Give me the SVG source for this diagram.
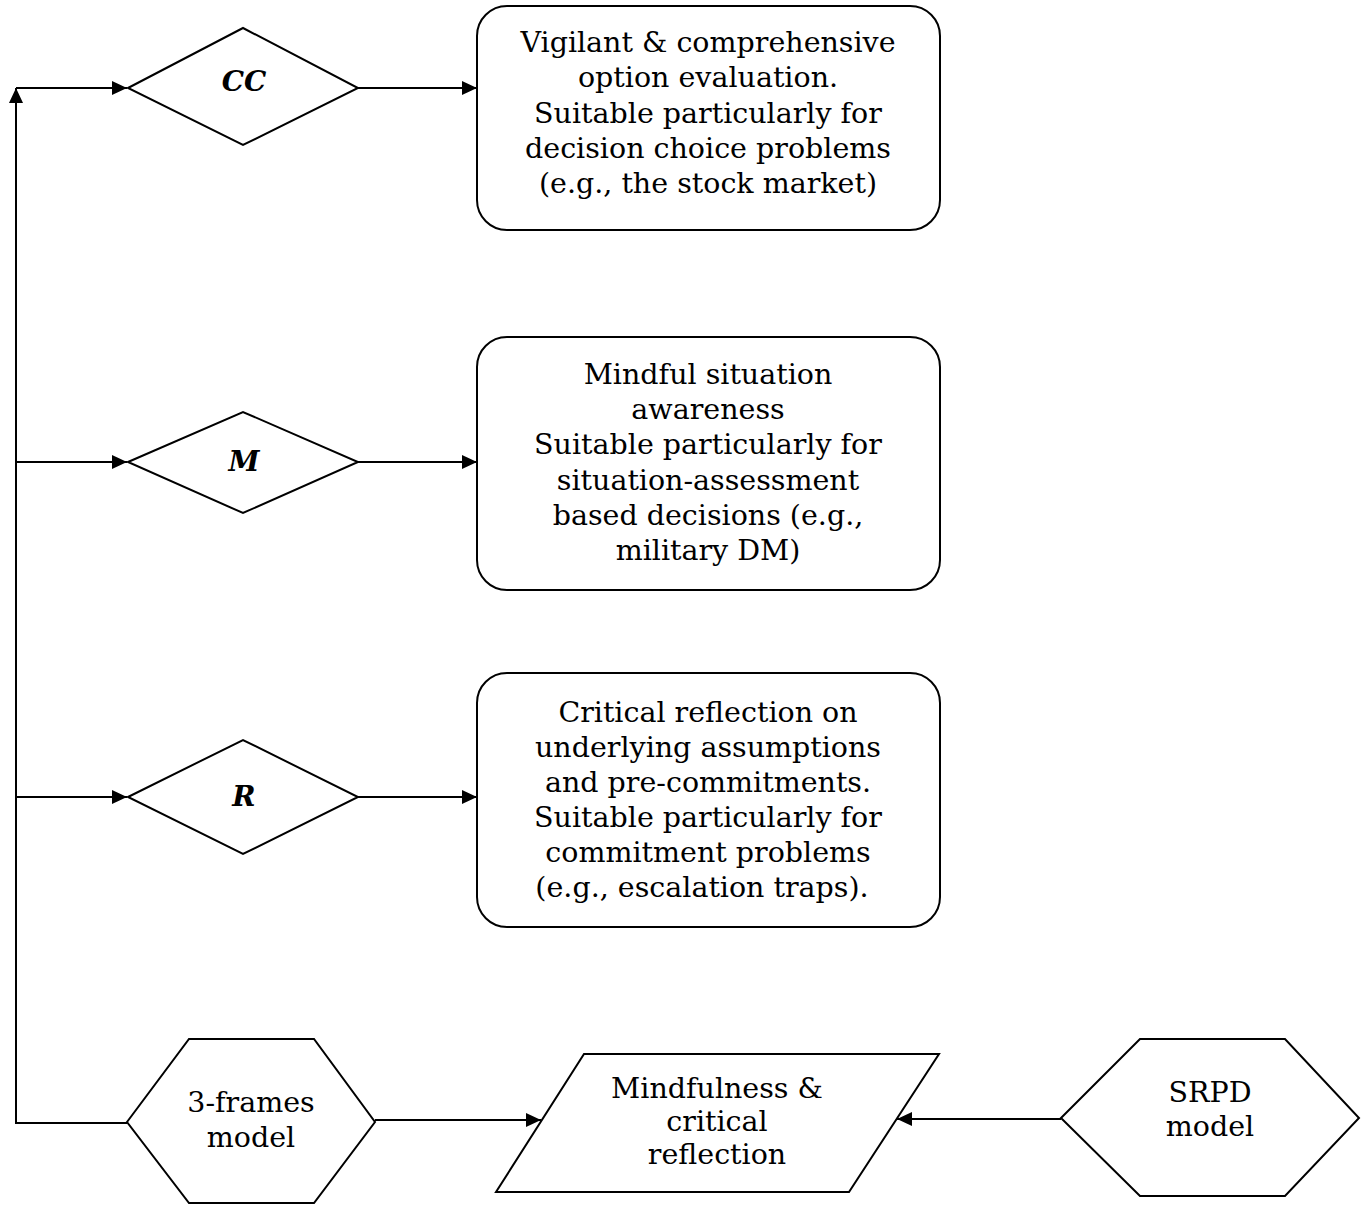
<svg xmlns="http://www.w3.org/2000/svg" width="1364" height="1205" viewBox="0 0 1364 1205">
<defs>
<marker id="arr" markerUnits="userSpaceOnUse" markerWidth="16" markerHeight="14" refX="15" refY="7" orient="auto">
<path d="M0,0 L15,7 L0,14 z" fill="#000"/>
</marker>
<style>
.sh{fill:#fff;stroke:#000;stroke-width:2}
.ln{fill:none;stroke:#000;stroke-width:2}
.t{font-family:"DejaVu Serif","Liberation Serif",serif;font-size:28.5px;fill:#000;text-anchor:middle}
.b{font-family:"DejaVu Serif","Liberation Serif",serif;font-size:28px;font-weight:bold;font-style:italic;fill:#000;text-anchor:middle}
</style>
</defs>
<rect width="1364" height="1205" fill="#fff"/>
<g id="connectors">
<path class="ln" d="M127,1123 L16,1123 L16,88" marker-end="url(#arr)"/>
<path class="ln" d="M16,88 L127,88" marker-end="url(#arr)"/>
<path class="ln" d="M16,462 L127,462" marker-end="url(#arr)"/>
<path class="ln" d="M16,797 L127,797" marker-end="url(#arr)"/>
<path class="ln" d="M358,88 L477,88" marker-end="url(#arr)"/>
<path class="ln" d="M358,462 L477,462" marker-end="url(#arr)"/>
<path class="ln" d="M358,797 L477,797" marker-end="url(#arr)"/>
<path class="ln" d="M375,1120 L541,1120" marker-end="url(#arr)"/>
<path class="ln" d="M1061,1119 L897,1119" marker-end="url(#arr)"/>
</g>
<g id="cc">
<polygon class="sh" points="128,88 243,28 358,88 243,145"/>
<text class="b" x="244" y="91">CC</text>
</g>
<g id="m">
<polygon class="sh" points="128,462 243,412 358,462 243,513"/>
<text class="b" x="244" y="471">M</text>
</g>
<g id="r">
<polygon class="sh" points="128,797 243,740 358,797 243,854"/>
<text class="b" x="244" y="806">R</text>
</g>
<g id="box1">
<rect class="sh" x="477" y="6" width="463" height="224" rx="30"/>
<text class="t" x="708" y="52">Vigilant &amp; comprehensive</text>
<text class="t" x="708" y="87">option evaluation.</text>
<text class="t" x="708" y="123">Suitable particularly for</text>
<text class="t" x="708" y="158">decision choice problems</text>
<text class="t" x="708" y="193">(e.g., the stock market)</text>
</g>
<g id="box2">
<rect class="sh" x="477" y="337" width="463" height="253" rx="30"/>
<text class="t" x="708" y="384">Mindful situation</text>
<text class="t" x="708" y="419">awareness</text>
<text class="t" x="708" y="454">Suitable particularly for</text>
<text class="t" x="708" y="490">situation-assessment</text>
<text class="t" x="708" y="525">based decisions (e.g.,</text>
<text class="t" x="708" y="560">military DM)</text>
</g>
<g id="box3">
<rect class="sh" x="477" y="673" width="463" height="254" rx="30"/>
<text class="t" x="708" y="722">Critical reflection on</text>
<text class="t" x="708" y="757">underlying assumptions</text>
<text class="t" x="708" y="792">and pre-commitments.</text>
<text class="t" x="708" y="827">Suitable particularly for</text>
<text class="t" x="708" y="862">commitment problems</text>
<text class="t" x="702" y="897">(e.g., escalation traps).</text>
</g>
<g id="three-frames">
<polygon class="sh" points="127,1122 189,1039 314,1039 375,1122 314,1203 189,1203"/>
<text class="t" x="251" y="1112">3-frames</text>
<text class="t" x="251" y="1147">model</text>
</g>
<g id="mindfulness">
<polygon class="sh" points="584,1054 939,1054 849,1192 496,1192"/>
<text class="t" x="717" y="1098">Mindfulness &amp;</text>
<text class="t" x="717" y="1131">critical</text>
<text class="t" x="717" y="1164">reflection</text>
</g>
<g id="srpd">
<polygon class="sh" points="1061,1118 1140,1039 1285,1039 1359,1118 1285,1196 1140,1196"/>
<text class="t" x="1210" y="1102">SRPD</text>
<text class="t" x="1210" y="1136">model</text>
</g>
</svg>
